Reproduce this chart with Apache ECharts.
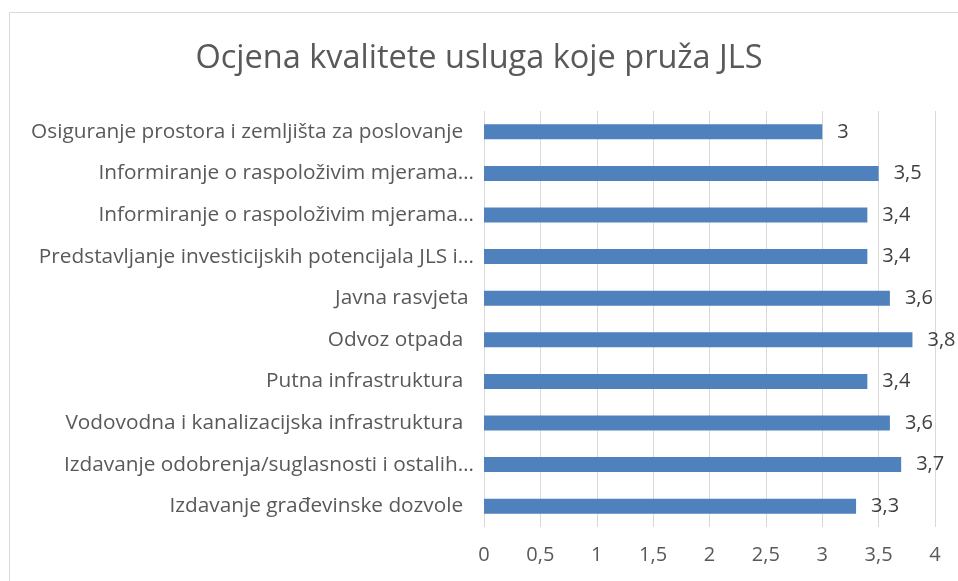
<!DOCTYPE html>
<html>
<head>
<meta charset="utf-8">
<script src="https://cdn.jsdelivr.net/npm/echarts@6/dist/echarts.min.js"></script>
<style>
  html, body { margin: 0; padding: 0; background: #fff; }
  #chart { width: 958px; height: 581px; }
</style>
</head>
<body>
<div id="chart"></div>
<script>
// categories listed bottom to top (ECharts category axis starts at bottom)
const categories = [
  'Izdavanje građevinske dozvole  ',
  'Izdavanje odobrenja/suglasnosti i ostalih…',
  'Vodovodna i kanalizacijska infrastruktura  ',
  'Putna infrastruktura  ',
  'Odvoz otpada  ',
  'Javna rasvjeta ',
  'Predstavljanje investicijskih potencijala JLS i…',
  'Informiranje o raspoloživim mjerama…',
  'Informiranje o raspoloživim mjerama…',
  'Osiguranje prostora i zemljišta za poslovanje  '
]
const values = [3.3, 3.7, 3.6, 3.4, 3.8, 3.6, 3.4, 3.4, 3.5, 3]
const titleText = 'Ocjena kvalitete usluga koje pruža JLS'

const fmt = (v) => String(v).replace('.', ',')

const chart = echarts.init(document.getElementById('chart'))

const option = {
  animation: false,
  textStyle: { fontFamily: 'Open Sans' },
  title: {
    text: titleText,
    left: 'center',
    top: 37,
    textStyle: {
      fontFamily: 'Open Sans',
      fontSize: 32.5,
      fontWeight: 'normal',
      color: '#595959'
    }
  },
  graphic: [
    {
      type: 'rect',
      shape: { x: 9.5, y: 12.5, width: 1000, height: 1000 },
      style: { fill: 'none', stroke: '#d9d9d9', lineWidth: 1 },
      silent: true
    }
  ],
  grid: {
    left: 484,
    right: 23,
    top: 111,
    bottom: 54
  },
  xAxis: {
    type: 'value',
    min: 0,
    max: 4,
    interval: 0.5,
    axisLine: { show: false },
    axisTick: { show: false },
    axisLabel: {
      color: '#595959',
      fontSize: 20,
      margin: 18,
      formatter: (v) => fmt(v)
    },
    splitLine: {
      lineStyle: { color: '#d9d9d9', width: 1 }
    }
  },
  yAxis: {
    type: 'category',
    data: categories,
    axisLine: { show: false },
    axisTick: { show: false },
    axisLabel: {
      color: '#595959',
      fontSize: 20.8,
      margin: 10
    }
  },
  series: [
    {
      type: 'bar',
      data: values,
      barWidth: 15,
      itemStyle: { color: '#4f81bd' },
      label: {
        show: true,
        position: 'right',
        distance: 15,
        color: '#404040',
        fontSize: 20,
        formatter: (p) => fmt(p.value)
      }
    }
  ]
}

chart.setOption(option)
</script>
</body>
</html>
